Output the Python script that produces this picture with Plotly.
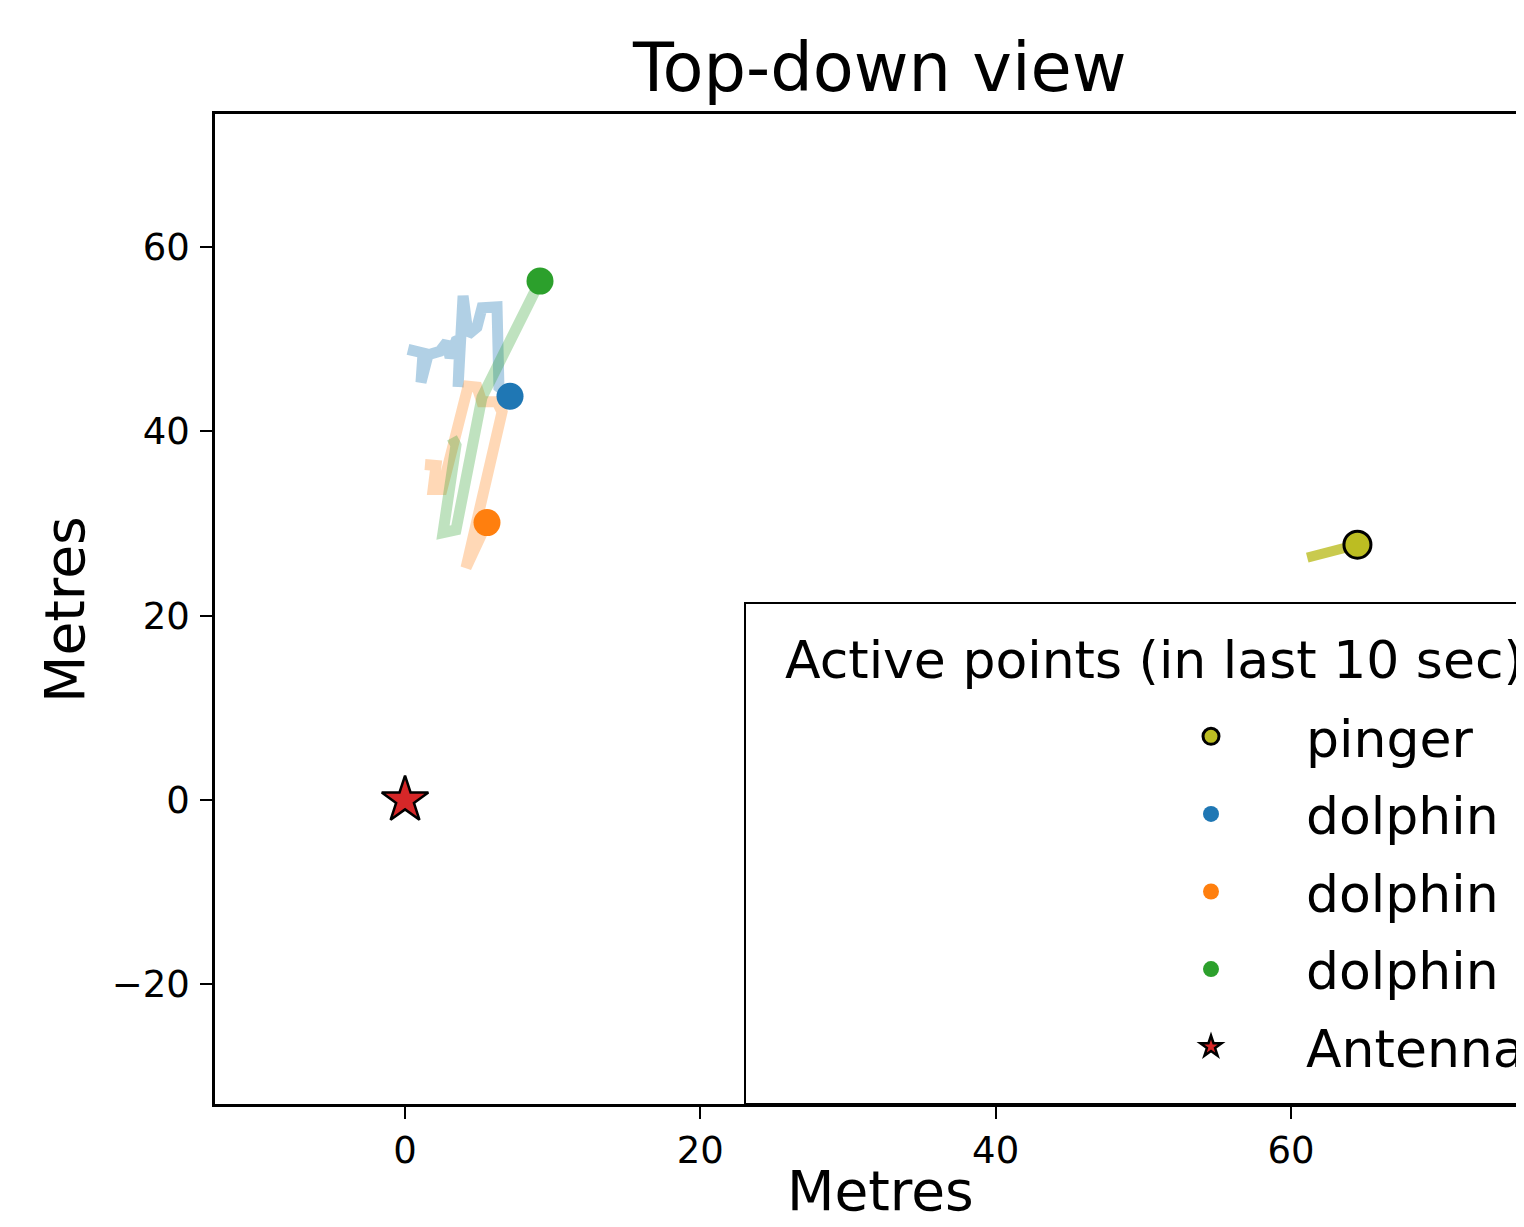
import plotly.graph_objects as go

# ---- data (metres) ----
pinger_x = [61.1, 62.3, 63.4, 64.5]
pinger_y = [26.3, 26.85, 27.3, 27.7]

blue_x = [0.2, 1.22, 1.08, 1.56, 2.37, 2.84, 3.05, 3.45, 3.72, 3.59, 3.93, 4.27, 4.87, 5.21, 6.23, 6.36, 7.11]
blue_y = [48.9, 48.5, 45.3, 48.3, 48.7, 49.7, 48.0, 49.8, 50.0, 44.8, 54.7, 50.5, 51.3, 53.4, 53.5, 44.8, 43.8]

orange_x = [1.35, 2.1, 1.9, 2.5, 4.27, 4.87, 5.2, 6.23, 6.57, 4.13, 5.55]
orange_y = [36.4, 36.3, 33.7, 33.7, 44.9, 44.8, 43.2, 43.2, 42.1, 25.2, 30.1]

green_x = [3.18, 3.45, 2.57, 3.45, 5.21, 9.14]
green_y = [39.3, 38.5, 29.0, 29.3, 43.7, 56.3]

antenna_x = [0.0]
antenna_y = [0.0]

names = ["pinger", "dolphin", "dolphin", "dolphin", "Antenna"]
x_ticks = [0, 20, 40, 60]
y_ticks = [-20, 0, 20, 40, 60]

FONT = "DejaVu Sans"

fig = go.Figure()

trails = [
    (pinger_x, pinger_y, "rgba(188,189,34,0.8)", 10),
    (blue_x, blue_y, "rgba(31,119,180,0.35)", 11),
    (orange_x, orange_y, "rgba(255,127,14,0.3)", 11),
    (green_x, green_y, "rgba(44,160,44,0.3)", 11),
]
for tx, ty, col, w in trails:
    fig.add_trace(go.Scatter(x=tx, y=ty, mode="lines", line=dict(color=col, width=w),
                             showlegend=False, hoverinfo="skip"))

dots = [
    (pinger_x, pinger_y, "#bcbd22", names[0], dict(color="black", width=3), 27, "circle"),
    (blue_x, blue_y, "#1f77b4", names[1], dict(width=0), 27, "circle"),
    (orange_x, orange_y, "#ff7f0e", names[2], dict(width=0), 27, "circle"),
    (green_x, green_y, "#2ca02c", names[3], dict(width=0), 27, "circle"),
    (antenna_x, antenna_y, "#d62728", names[4], dict(color="black", width=2.5), 35, "star"),
]
for i, (tx, ty, col, nm, ln, sz, sym) in enumerate(dots):
    fig.add_trace(go.Scatter(x=tx[-1:], y=ty[-1:], mode="markers", name=nm,
                             legendgroup=f"g{i}",
                             marker=dict(color=col, size=sz, line=ln, symbol=sym)))

# page body adds an 8px offset; positions below are given in screen pixels
OFF = 8
W, H = 1524 - OFF, 1227 - OFF
L, T, B = 215, 114, 1104  # screen pixels of plot area
pw = 1524 - L
ph = B - T


def px_x(p):
    return (p - L) / pw


def px_y(p):
    return (B - p) / ph


fig.update_layout(
    width=W, height=H,
    margin=dict(l=L - OFF, r=0, t=T - OFF, b=H - (B - OFF), autoexpand=False),
    paper_bgcolor="white", plot_bgcolor="white",
    font=dict(family=FONT, color="black"),
    showlegend=True,
    legend=dict(x=px_x(1116), y=px_y(696), xanchor="left", yanchor="top",
                itemwidth=180, font=dict(size=52, family=FONT, color="black"),
                bgcolor="rgba(0,0,0,0)", borderwidth=0, tracegroupgap=7,
                traceorder="grouped"),
    xaxis=dict(range=[-12.87, 75.78], tickvals=x_ticks, ticks="outside", ticklen=12,
               tickwidth=2, tickcolor="black", showline=True, linecolor="black",
               linewidth=2.5, mirror=True, showgrid=False, zeroline=False,
               tickfont=dict(size=37, family=FONT, color="black")),
    yaxis=dict(range=[-32.98, 74.43], tickvals=y_ticks, ticks="outside", ticklen=12,
               tickwidth=2, tickcolor="black", showline=True, linecolor="black",
               linewidth=2.5, mirror=False, showgrid=False, zeroline=False,
               tickfont=dict(size=37, family=FONT, color="black"),
               ticklabelstandoff=3),
    shapes=[dict(type="rect", xref="paper", yref="paper", x0=px_x(745), x1=1.05,
                 y0=0, y1=px_y(603), line=dict(color="black", width=2),
                 fillcolor="rgba(0,0,0,0)", layer="above")],
    annotations=[
        dict(text="Top-down view", xref="paper", yref="paper", x=px_x(879), y=px_y(68),
             xanchor="center", yanchor="middle", showarrow=False,
             font=dict(size=67, family=FONT, color="black")),
        dict(text="Metres", xref="paper", yref="paper", x=px_x(880), y=px_y(1191),
             xanchor="center", yanchor="middle", showarrow=False, borderpad=0,
             font=dict(size=55, family=FONT, color="black")),
        dict(text="Metres", xref="paper", yref="paper", x=px_x(65), y=px_y(610),
             xanchor="center", yanchor="middle", showarrow=False, textangle=-90,
             font=dict(size=55, family=FONT, color="black")),
        dict(text="Active points (in last 10 sec)", xref="paper", yref="paper",
             x=px_x(783), y=px_y(660), xanchor="left", yanchor="middle", showarrow=False,
             font=dict(size=52, family=FONT, color="black")),
    ],
)

fig.write_html("out.html")
